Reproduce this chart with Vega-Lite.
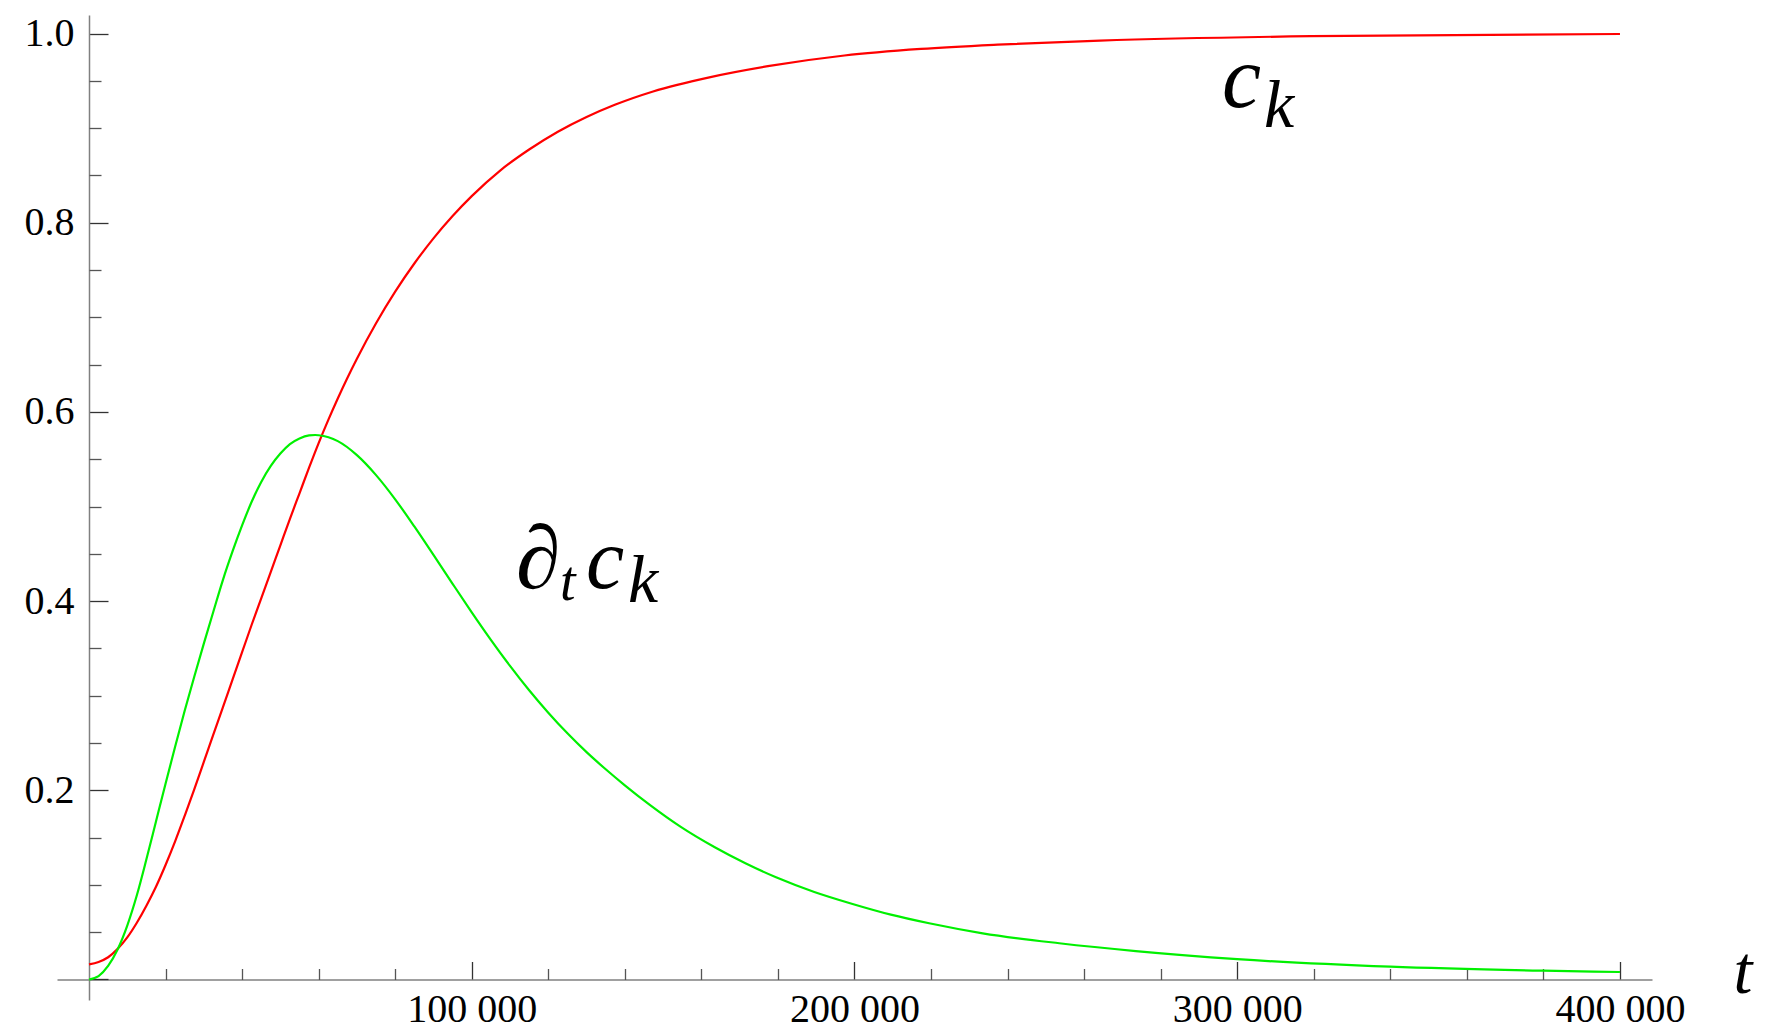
{
  "$schema": "https://vega.github.io/schema/vega-lite/v6.json",
  "width": 1595,
  "height": 985,
  "autosize": {"type": "none"},
  "padding": {"left": 57, "top": 15, "right": 114, "bottom": 31},
  "background": "white",
  "config": {"view": {"stroke": null}, "axis": {"grid": false}},
  "datasets": {
    "ck": [
      {"t": 0, "v": 0.016}, {"t": 2500, "v": 0.0185}, {"t": 5000, "v": 0.0235}, {"t": 7500, "v": 0.0325},
      {"t": 10000, "v": 0.0445}, {"t": 12500, "v": 0.06}, {"t": 15000, "v": 0.078}, {"t": 17500, "v": 0.098},
      {"t": 20000, "v": 0.121}, {"t": 22500, "v": 0.146}, {"t": 25000, "v": 0.173}, {"t": 27500, "v": 0.201},
      {"t": 30000, "v": 0.23}, {"t": 32500, "v": 0.259}, {"t": 35000, "v": 0.288}, {"t": 37500, "v": 0.317},
      {"t": 40000, "v": 0.346}, {"t": 42500, "v": 0.375}, {"t": 45000, "v": 0.403}, {"t": 47500, "v": 0.431},
      {"t": 50000, "v": 0.459}, {"t": 52500, "v": 0.487}, {"t": 55000, "v": 0.514}, {"t": 57500, "v": 0.541},
      {"t": 60000, "v": 0.567}, {"t": 62500, "v": 0.5913}, {"t": 65000, "v": 0.6142}, {"t": 67500, "v": 0.6359},
      {"t": 70000, "v": 0.6563}, {"t": 75000, "v": 0.6938}, {"t": 80000, "v": 0.7272}, {"t": 85000, "v": 0.7569},
      {"t": 90000, "v": 0.7835}, {"t": 95000, "v": 0.8071}, {"t": 100000, "v": 0.8281}, {"t": 107500, "v": 0.8554},
      {"t": 115000, "v": 0.8774}, {"t": 122500, "v": 0.8962}, {"t": 130000, "v": 0.9118}, {"t": 137380, "v": 0.9247},
      {"t": 147380, "v": 0.9388}, {"t": 162380, "v": 0.954}, {"t": 177380, "v": 0.9655}, {"t": 197370, "v": 0.9768},
      {"t": 217370, "v": 0.9837}, {"t": 237370, "v": 0.9882}, {"t": 264150, "v": 0.9925}, {"t": 319300, "v": 0.9972},
      {"t": 400000, "v": 0.9995}
    ],
    "dck": [
      {"t": 0, "v": 0.0}, {"t": 2500, "v": 0.0036}, {"t": 5000, "v": 0.0143}, {"t": 7500, "v": 0.032},
      {"t": 10000, "v": 0.057}, {"t": 12500, "v": 0.089}, {"t": 15000, "v": 0.127}, {"t": 17500, "v": 0.167},
      {"t": 20000, "v": 0.207}, {"t": 22500, "v": 0.246}, {"t": 25000, "v": 0.284}, {"t": 27500, "v": 0.32},
      {"t": 30000, "v": 0.355}, {"t": 32500, "v": 0.389}, {"t": 35000, "v": 0.4225}, {"t": 37500, "v": 0.4525},
      {"t": 40000, "v": 0.48}, {"t": 42500, "v": 0.505}, {"t": 45000, "v": 0.526}, {"t": 47500, "v": 0.543},
      {"t": 50000, "v": 0.556}, {"t": 52500, "v": 0.566}, {"t": 55000, "v": 0.572}, {"t": 57500, "v": 0.5752},
      {"t": 59100, "v": 0.5756}, {"t": 60000, "v": 0.5753}, {"t": 65000, "v": 0.5691}, {"t": 70000, "v": 0.5543},
      {"t": 75000, "v": 0.5332}, {"t": 80000, "v": 0.5076}, {"t": 85000, "v": 0.4789}, {"t": 90000, "v": 0.4488},
      {"t": 95000, "v": 0.4183}, {"t": 100000, "v": 0.3882}, {"t": 105000, "v": 0.3591}, {"t": 110000, "v": 0.3315},
      {"t": 115000, "v": 0.3057}, {"t": 120000, "v": 0.282}, {"t": 125000, "v": 0.2602}, {"t": 130000, "v": 0.2403},
      {"t": 135000, "v": 0.2222}, {"t": 140000, "v": 0.2052}, {"t": 146520, "v": 0.1845}, {"t": 154520, "v": 0.1615},
      {"t": 163500, "v": 0.1397}, {"t": 171500, "v": 0.1228}, {"t": 179500, "v": 0.108}, {"t": 189500, "v": 0.0925},
      {"t": 199500, "v": 0.0798}, {"t": 209500, "v": 0.0685}, {"t": 219500, "v": 0.0594}, {"t": 233500, "v": 0.0488},
      {"t": 253500, "v": 0.0383}, {"t": 273500, "v": 0.030}, {"t": 300000, "v": 0.0215}, {"t": 340000, "v": 0.0135},
      {"t": 380000, "v": 0.0093}, {"t": 400000, "v": 0.0079}
    ],
    "one": [{}]
  },
  "layer": [
    {
      "data": {"name": "ck"},
      "mark": {"type": "line", "color": "#ff0000", "strokeWidth": 2.2, "interpolate": "monotone"},
      "encoding": {
        "x": {
          "field": "t", "type": "quantitative",
          "scale": {"domain": [-8360, 408370], "nice": false, "zero": false},
          "axis": {
            "orient": "bottom", "offset": -20.5,
            "values": [100000, 200000, 300000, 400000],
            "tickSize": -18, "tickWidth": 1.3, "tickColor": "#333333",
            "domainColor": "#808080", "domainWidth": 1.5,
            "labelFont": "Liberation Serif, Times New Roman, serif", "labelFontSize": 40, "labelColor": "#000000",
            "labelPadding": 28, "labelFlush": false, "labelOverlap": false,
            "labelExpr": "replace(format(datum.value, ','), ',', ' ')",
            "title": "t", "titleFont": "Liberation Serif, Times New Roman, serif", "titleFontStyle": "italic",
            "titleFontWeight": "normal", "titleFontSize": 68, "titleColor": "#000000",
            "titleX": 1676, "titleY": 13, "titleAlign": "left", "titleBaseline": "alphabetic", "titleAngle": 0
          }
        },
        "y": {
          "field": "v", "type": "quantitative",
          "scale": {"domain": [-0.0217, 1.0196], "nice": false, "zero": false},
          "axis": {
            "orient": "left", "offset": -32,
            "values": [0, 0.2, 0.4, 0.6, 0.8, 1.0],
            "tickSize": -19, "tickWidth": 1.3, "tickColor": "#333333",
            "domainColor": "#808080", "domainWidth": 1.5,
            "labelFont": "Liberation Serif, Times New Roman, serif", "labelFontSize": 40, "labelColor": "#000000",
            "labelPadding": 34, "labelFlush": false, "labelOverlap": false,
            "labelExpr": "datum.value == 0 ? '' : format(datum.value, '.1f')",
            "title": null
          }
        }
      }
    },
    {
      "data": {"name": "dck"},
      "mark": {"type": "line", "color": "#00f000", "strokeWidth": 2.2, "interpolate": "monotone"},
      "encoding": {
        "x": {
          "field": "t", "type": "quantitative",
          "scale": {"domain": [-8360, 408370], "nice": false, "zero": false},
          "axis": {
            "orient": "bottom", "offset": -20.5,
            "values": [20000, 40000, 60000, 80000, 120000, 140000, 160000, 180000, 220000, 240000, 260000, 280000, 320000, 340000, 360000, 380000],
            "tickSize": -11, "tickWidth": 1.3, "tickColor": "#555555",
            "domain": false, "labels": false, "title": null
          }
        },
        "y": {
          "field": "v", "type": "quantitative",
          "scale": {"domain": [-0.0217, 1.0196], "nice": false, "zero": false},
          "axis": {
            "orient": "left", "offset": -32,
            "values": [0.05, 0.1, 0.15, 0.25, 0.3, 0.35, 0.45, 0.5, 0.55, 0.65, 0.7, 0.75, 0.85, 0.9, 0.95],
            "tickSize": -12, "tickWidth": 1.3, "tickColor": "#555555",
            "domain": false, "labels": false, "title": null
          }
        }
      }
    },
    {
      "data": {"name": "one"},
      "mark": {"type": "text", "text": "c", "font": "Liberation Serif, Times New Roman, serif", "fontStyle": "italic", "fontSize": 88, "align": "left", "baseline": "alphabetic", "color": "#000000"},
      "encoding": {
        "x": {"datum": 296020, "type": "quantitative", "axis": null},
        "y": {"datum": 0.922, "type": "quantitative", "axis": null}
      }
    },
    {
      "data": {"name": "one"},
      "mark": {"type": "text", "text": "k", "font": "Liberation Serif, Times New Roman, serif", "fontStyle": "italic", "fontSize": 68, "align": "left", "baseline": "alphabetic", "dx": 42, "dy": 20, "color": "#000000"},
      "encoding": {
        "x": {"datum": 296020, "type": "quantitative", "axis": null},
        "y": {"datum": 0.922, "type": "quantitative", "axis": null}
      }
    },
    {
      "data": {"name": "one"},
      "mark": {"type": "text", "text": "∂", "font": "Liberation Serif, Times New Roman, serif", "fontSize": 90, "align": "left", "baseline": "alphabetic", "color": "#000000"},
      "encoding": {
        "x": {"datum": 111560, "type": "quantitative", "axis": null},
        "y": {"datum": 0.4139, "type": "quantitative", "axis": null}
      }
    },
    {
      "data": {"name": "one"},
      "mark": {"type": "text", "text": "t", "font": "Liberation Serif, Times New Roman, serif", "fontStyle": "italic", "fontSize": 56, "align": "left", "baseline": "alphabetic", "dx": 44, "dy": 12, "color": "#000000"},
      "encoding": {
        "x": {"datum": 111560, "type": "quantitative", "axis": null},
        "y": {"datum": 0.4139, "type": "quantitative", "axis": null}
      }
    },
    {
      "data": {"name": "one"},
      "mark": {"type": "text", "text": "c", "font": "Liberation Serif, Times New Roman, serif", "fontStyle": "italic", "fontSize": 86, "align": "left", "baseline": "alphabetic", "dx": 70, "color": "#000000"},
      "encoding": {
        "x": {"datum": 111560, "type": "quantitative", "axis": null},
        "y": {"datum": 0.4139, "type": "quantitative", "axis": null}
      }
    },
    {
      "data": {"name": "one"},
      "mark": {"type": "text", "text": "k", "font": "Liberation Serif, Times New Roman, serif", "fontStyle": "italic", "fontSize": 68, "align": "left", "baseline": "alphabetic", "dx": 112, "dy": 14, "color": "#000000"},
      "encoding": {
        "x": {"datum": 111560, "type": "quantitative", "axis": null},
        "y": {"datum": 0.4139, "type": "quantitative", "axis": null}
      }
    }
  ],
  "resolve": {"axis": {"x": "independent", "y": "independent"}}
}
